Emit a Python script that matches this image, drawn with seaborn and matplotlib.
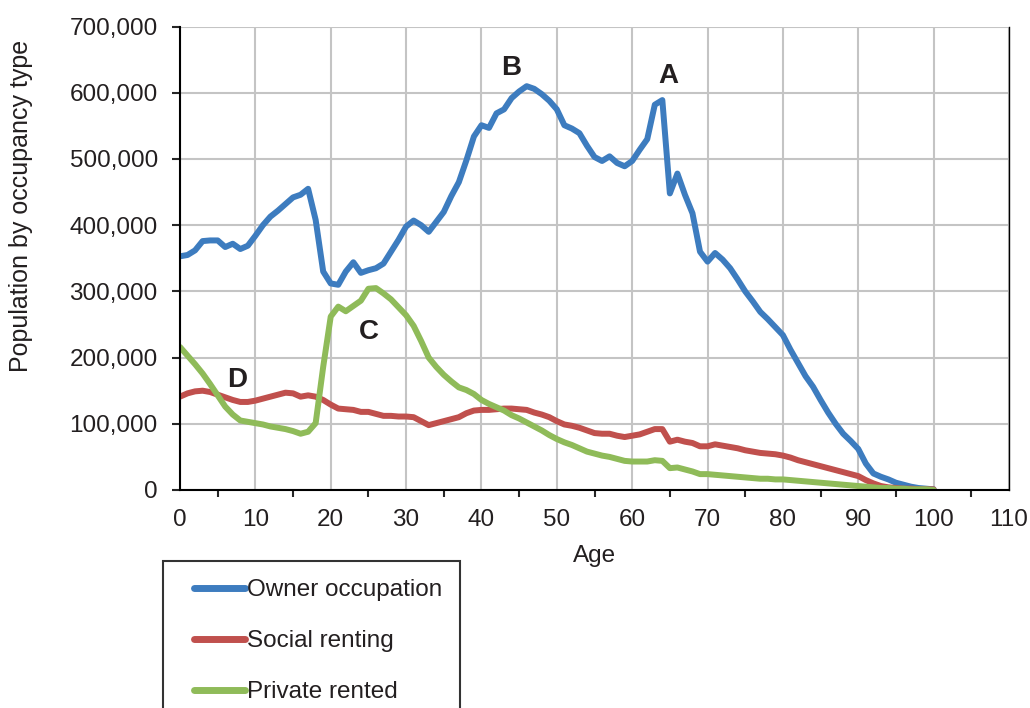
import matplotlib
matplotlib.use("Agg")
import matplotlib.pyplot as plt
import seaborn as sns
import pandas as pd
import numpy as np
from matplotlib.ticker import FuncFormatter, MultipleLocator
from matplotlib.patches import Rectangle

# population (thousands) by single year of age, 0..100
ages = list(range(0, 101))

owner = [353, 355, 362, 376, 377, 377, 367, 372, 364, 369,
         384, 400, 413, 422, 432, 442, 446, 455, 408, 330,
         312, 310, 330, 344, 328, 332, 335, 342, 360, 378,
         398, 407, 400, 390, 405, 420, 444, 465, 498, 534,
         551, 547, 569, 575, 592, 602, 610, 606, 598, 588,
         575, 551, 546, 539, 520, 503, 497, 504, 494, 489,
         497, 514, 530, 582, 589, 448, 478, 446, 418, 360,
         345, 358, 348, 335, 318, 300, 285, 269, 258, 246,
         234, 212, 192, 172, 156, 136, 117, 100, 85, 74,
         62, 40, 25, 20, 16, 11, 8, 5, 3, 2, 1]

social = [141, 146, 149, 150, 148, 144, 140, 136, 133, 133,
          135, 138, 141, 144, 147, 146, 141, 143, 141, 136,
          129, 123, 122, 121, 118, 118, 115, 112, 112, 111,
          111, 110, 104, 98, 101, 104, 107, 110, 116, 120,
          121, 121, 122, 123, 123, 122, 121, 117, 114, 110,
          104, 99, 97, 94, 90, 86, 85, 85, 82, 80,
          82, 84, 88, 92, 92, 73, 76, 73, 71, 66,
          66, 69, 67, 65, 63, 60, 58, 56, 55, 54,
          52, 49, 45, 42, 39, 36, 33, 30, 27, 24,
          21, 15, 10, 6, 4, 3, 2, 2, 1, 1, 1]

private = [216, 203, 190, 176, 160, 143, 126, 114, 105, 103,
           101, 99, 96, 94, 92, 89, 85, 88, 101, 186,
           262, 277, 270, 278, 286, 304, 305, 297, 288, 276,
           264, 248, 225, 200, 186, 174, 164, 155, 151, 145,
           136, 130, 125, 120, 113, 108, 102, 96, 90, 83,
           77, 72, 68, 63, 58, 55, 52, 50, 47, 44,
           43, 43, 43, 45, 44, 33, 34, 31, 28, 24,
           24, 23, 22, 21, 20, 19, 18, 17, 17, 16,
           16, 15, 14, 13, 12, 11, 10, 9, 8, 7,
           6, 5, 4, 3, 3, 2, 2, 1, 1, 1, 0]

series_names = ["Owner occupation", "Social renting", "Private rented"]
colors = ["#3d7cbf", "#c0504d", "#8fbb59"]

# annotation letters: (label, age, population)
notes = [("A", 64.8, 626000), ("B", 44.0, 637000),
         ("C", 25.0, 238000), ("D", 7.6, 166000)]

df = pd.DataFrame({
    "Age": ages * 3,
    "Population": np.array(owner + social + private) * 1000,
    "Type": [series_names[0]] * 101 + [series_names[1]] * 101 + [series_names[2]] * 101,
})

sns.set_theme(style="white")
plt.rcParams['font.family'] = ['Liberation Sans', 'DejaVu Sans']
txt = "#231f20"
W, H = 1030, 708

fig = plt.figure(figsize=(10.3, 7.08), dpi=100)
ax = fig.add_axes([180 / W, 1 - 490 / H, (1009 - 180) / W, (490 - 26.6) / H])

sns.lineplot(data=df, x="Age", y="Population", hue="Type", palette=colors,
             linewidth=4.3, ax=ax, legend=True, solid_capstyle="round")

ax.set_xlim(0, 110)
ax.set_ylim(0, 700000)
ax.xaxis.set_major_locator(MultipleLocator(10))
ax.xaxis.set_minor_locator(MultipleLocator(5))
ax.yaxis.set_major_locator(MultipleLocator(100000))
ax.yaxis.set_major_formatter(FuncFormatter(lambda v, p: f"{int(v):,}"))
ax.grid(True, which="major", color="#c4c4c4", linewidth=1.5)
ax.set_axisbelow(True)

for s in ["left", "bottom", "right"]:
    ax.spines[s].set_color("black")
    ax.spines[s].set_linewidth(1.5)
ax.spines["top"].set_visible(False)
ax.spines["right"].set_linewidth(1.0)

ax.tick_params(axis="x", which="major", direction="inout", length=10, width=1.5,
               labelsize=17.5, labelcolor=txt, pad=9)
ax.tick_params(axis="x", which="minor", direction="out", length=5, width=1.5, bottom=True)
ax.tick_params(axis="y", which="major", direction="out", length=6, width=1.5,
               labelsize=17.5, labelcolor=txt, left=True, pad=10)

ax.set_xlabel("Age", fontsize=17.5, color=txt, labelpad=10)
ax.set_ylabel("Population by occupancy type", fontsize=18, color=txt)
ax.yaxis.set_label_coords((33 - 180) / 829, (490 - 206) / 463.4)

for lab, xa, ya in notes:
    ax.text(xa, ya, lab, fontsize=20, fontweight="bold", color=txt,
            ha="center", va="center")

# legend box (cut off by the figure's bottom edge, as in the source)
fig.patches.append(Rectangle((163 / W, -0.05), (460 - 163) / W, (1 - 561 / H) + 0.05,
                             transform=fig.transFigure, facecolor="white",
                             edgecolor="#333333", linewidth=1.5, zorder=1))

handles, labels = ax.get_legend_handles_labels()
ax.get_legend().remove()
leg = fig.legend(handles, labels, loc="upper left",
                 bbox_to_anchor=(194 / W, 1 - 579 / H), borderaxespad=0,
                 fontsize=17.5, frameon=False, handlelength=2.1, handletextpad=0.1,
                 labelspacing=1.2, borderpad=0)
leg.set_zorder(2)
for t in leg.get_texts():
    t.set_color(txt)
for h in leg.get_lines():
    h.set_linewidth(5)

fig.savefig("out.png", dpi=100)
